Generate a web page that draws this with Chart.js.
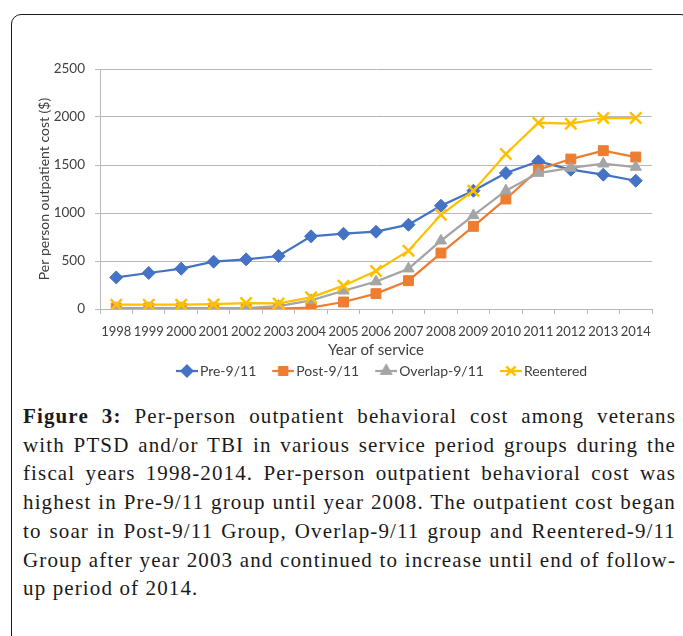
<!DOCTYPE html>
<html lang="en">
<head>
    <meta charset="UTF-8">
    <script src="https://cdn.jsdelivr.net/npm/chart.js"></script>
    <title>Figure 3</title>
    <style>
        html, body { margin: 0; padding: 0; background: #fff; }
        body { width: 683px; height: 636px; position: relative; overflow: hidden; }
        #frame {
            position: absolute; left: 11px; top: 14px; width: 680px; height: 700px;
            border: 1.5px solid #1a1a1a; border-radius: 10px; box-sizing: border-box;
        }
        #wrap { position: absolute; left: 0; top: 0; width: 683px; height: 400px; }
        #caption {
            position: absolute; left: 23px; top: 402px; width: 653px;
            font-family: "Liberation Serif", serif; font-size: 21px; line-height: 28.7px; color: #1a1a1a;
        }
        #caption div { text-align: justify; text-align-last: justify; white-space: nowrap; }
        #caption div.last { text-align: left; text-align-last: left; }
    </style>
</head>
<body>
    <div id="frame"></div>
    <div id="wrap"><canvas id="myChart" width="683" height="400"></canvas></div>
    <div id="caption">
        <div><b>Figure 3:</b> Per-person outpatient behavioral cost among veterans</div>
        <div>with PTSD and/or TBI in various service period groups during the</div>
        <div>fiscal years 1998-2014. Per-person outpatient behavioral cost was</div>
        <div>highest in Pre-9/11 group until year 2008. The outpatient cost began</div>
        <div>to soar in Post-9/11 Group, Overlap-9/11 group and Reentered-9/11</div>
        <div>Group after year 2003 and continued to increase until end of follow-</div>
        <div class="last">up period of 2014.</div>
    </div>

<script>
    // data block
    const years = ['1998','1999','2000','2001','2002','2003','2004','2005','2006',
                   '2007','2008','2009','2010','2011','2012','2013','2014'];
    const pre9_11 = [329, 375, 420, 493, 517, 552, 757, 784, 805, 878, 1076, 1232, 1416, 1538, 1451, 1399, 1336];
    const post9_11 = [10, 10, 10, 10, 10, 5, 15, 73, 160, 295, 583, 861, 1146, 1451, 1562, 1649, 1583];
    const overlap9_11 = [8, 8, 8, 8, 8, 30, 90, 190, 285, 420, 711, 975, 1232, 1416, 1469, 1513, 1479];
    const reentered = [45, 45, 45, 50, 62, 58, 121, 243, 396, 607, 982, 1232, 1614, 1940, 1930, 1989, 1989];
    const yTicks = [0, 500, 1000, 1500, 2000, 2500];

    const textColor = '#404040';
    const gridColor = '#b8b8b8';
    const sans = 'Lato, "Open Sans", sans-serif';

    // caption: widen the serif a little so the lines fill the box like the original
    (function fitCaption() {
        const cap = document.getElementById('caption');
        const lines = cap.querySelectorAll('div');
        const g = document.createElement('canvas').getContext('2d');
        g.font = '21px "Liberation Serif"';
        let ls = 5;
        [3, 4, 5].forEach(i => {
            const t = lines[i].textContent;
            ls = Math.min(ls, (653 - g.measureText(t).width - 2) / t.length);
        });
        cap.style.letterSpacing = Math.max(0, ls).toFixed(3) + 'px';
    })();

    const series = [
        {label: 'Pre-9/11', data: pre9_11, color: '#4472C4', style: 'rectRot', radius: 6.5, bw: 1},
        {label: 'Post-9/11', data: post9_11, color: '#ED7D31', style: 'rect', radius: 7, bw: 1},
        {label: 'Overlap-9/11', data: overlap9_11, color: '#A5A5A5', style: 'triangle', radius: 6.5, bw: 1},
        {label: 'Reentered', data: reentered, color: '#FFC000', style: 'crossRot', radius: 8, bw: 2.5}
    ];

    // legend symbol: short line with the marker in the middle
    function legendIcon(s) {
        const c = document.createElement('canvas');
        c.width = 38; c.height = 16;
        const g = c.getContext('2d');
        g.strokeStyle = s.color; g.fillStyle = s.color; g.lineWidth = 2.25;
        g.beginPath(); g.moveTo(16, 8); g.lineTo(38, 8); g.stroke();
        Chart.helpers.drawPoint(g, {pointStyle: s.style, radius: s.radius * 0.8, borderWidth: s.bw}, 27, 8);
        if (s.style !== 'crossRot') g.fill();
        g.stroke();
        return c;
    }

    const data = {
        labels: years,
        datasets: series.map((s, i) => ({
            label: s.label,
            data: s.data,
            borderColor: s.color,
            backgroundColor: s.color,
            borderWidth: 2.25,
            pointStyle: s.style,
            pointRadius: s.radius,
            pointBorderWidth: s.bw,
            pointBackgroundColor: s.color,
            pointBorderColor: s.color,
            tension: 0,
            order: series.length - i
        }))
    };

    const config = {
        type: 'line',
        data: data,
        options: {
            responsive: false,
            animation: false,
            layout: { padding: { left: 0, right: 31, top: 69, bottom: 12 } },
            plugins: {
                tooltip: { enabled: false },
                legend: {
                    position: 'bottom',
                    fullSize: false,
                    labels: {
                        usePointStyle: true,
                        pointStyleWidth: 28,
                        padding: 5,
                        color: textColor,
                        font: { family: sans, size: 14 },
                        sort: (a, b) => a.datasetIndex - b.datasetIndex,
                        generateLabels: (chart) => {
                            const items = Chart.defaults.plugins.legend.labels.generateLabels(chart);
                            items.forEach(it => { it.pointStyle = legendIcon(series[it.datasetIndex]); });
                            return items;
                        }
                    }
                }
            },
            scales: {
                x: {
                    offset: true,
                    afterFit: (scale) => { scale.height = 50; },
                    grid: { offset: true, drawOnChartArea: false, drawTicks: true, tickLength: 5, color: gridColor },
                    border: { display: true, color: gridColor },
                    ticks: { color: textColor, font: { family: sans, size: 13 }, padding: 10, maxRotation: 0, autoSkip: false },
                    title: { display: true, text: 'Year of service', color: textColor,
                             font: { family: sans, size: 15 }, padding: { top: 0, bottom: 0 } }
                },
                y: {
                    min: 0,
                    max: 2500,
                    afterFit: (scale) => { scale.width = 100; },
                    afterBuildTicks: (scale) => { scale.ticks = yTicks.map(v => ({value: v})); },
                    grid: { color: gridColor, tickLength: 5 },
                    border: { display: true, color: gridColor },
                    ticks: { color: textColor, font: { family: sans, size: 13.5 }, padding: 10,
                             callback: (v) => String(v) },
                    title: { display: true, text: 'Per person outpatient cost ($)', color: textColor,
                             font: { family: sans, size: 14 }, padding: { top: 36, bottom: 0 } }
                }
            }
        }
    };

    const myChart = new Chart(document.getElementById('myChart'), config);
</script>
</body>
</html>
